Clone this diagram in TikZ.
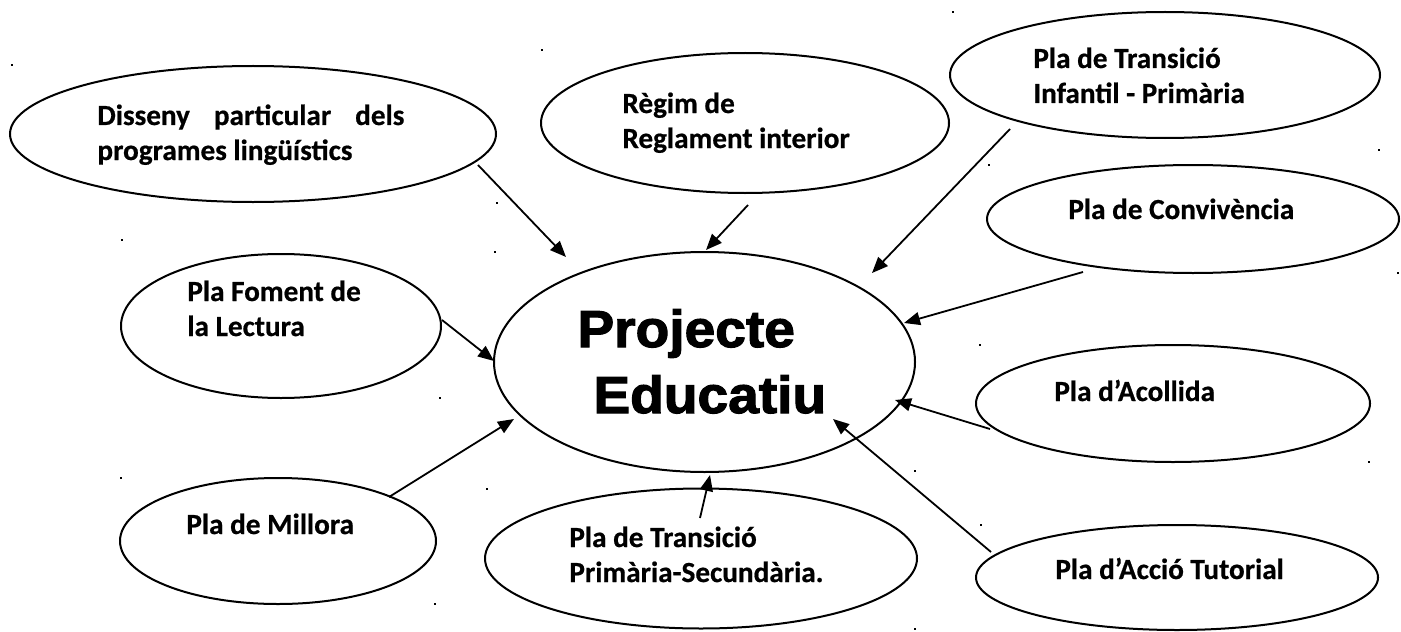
\documentclass[tikz,border=0pt]{standalone}
\usepackage{fontspec}
\setmainfont{Carlito}[BoldFeatures={FakeBold=0.6}]
\newfontfamily\bigfont{Liberation Sans}[BoldFeatures={FakeBold=2.2,FakeStretch=1.06}]
\usetikzlibrary{arrows.meta,shapes.geometric}
\tikzset{
  ell/.style={ellipse, draw=black, line width=1pt, inner sep=0pt, fill=none},
  txt/.style={anchor=base west, inner sep=0pt, font=\fontsize{14.6pt}{17.5pt}\selectfont\bfseries},
  bigtxt/.style={anchor=base west, inner sep=0pt, font=\bigfont\bfseries\fontsize{26pt}{33pt}\selectfont},
  con/.style={line width=0.9pt, -{Triangle[length=8pt,width=6.5pt]}},
  dotmark/.style={fill=black}
}
\newcommand{\twolines}[2]{\begin{tabular}[t]{@{}l@{}}#1\\#2\end{tabular}}
\begin{document}
\begin{tikzpicture}[x=0.5pt,y=-0.5pt]
\useasboundingbox (0,0) rectangle (1401,631);
% ellipses
\node[ell, minimum width=243pt, minimum height=68pt] (dis) at (253,134) {};
\node[ell, minimum width=204pt, minimum height=70pt] (reg) at (745,123) {};
\node[ell, minimum width=215pt, minimum height=63pt] (inf) at (1165,75) {};
\node[ell, minimum width=206pt, minimum height=54pt] (con) at (1193,219) {};
\node[ell, minimum width=160pt, minimum height=72pt] (fom) at (281,326) {};
\node[ell, minimum width=210.5pt, minimum height=110pt] (pe) at (704.5,362) {};
\node[ell, minimum width=197pt, minimum height=58.5pt] (aco) at (1173,403.5) {};
\node[ell, minimum width=158pt, minimum height=63pt] (mil) at (278,541) {};
\node[ell, minimum width=216pt, minimum height=70pt] (prs) at (701,558.5) {};
\node[ell, minimum width=201pt, minimum height=52.5pt] (tut) at (1177,577.5) {};
% texts
\node[txt] (tdis) at (97,125) {\twolines{\makebox[153.5pt][s]{Disseny particular dels}}{programes lingüístics}};
\node[txt] (treg) at (622,113) {\twolines{Règim de}{Reglament interior}};
\node[txt] (tinf) at (1033,68) {\twolines{Pla de Transició}{Infantil - Primària}};
\node[txt] (tcon) at (1068,219) {Pla de Convivència};
\node[txt] (tfom) at (187,301) {\twolines{Pla Foment de}{la Lectura}};
\node[txt] (taco) at (1054,401) {Pla d’Acollida};
\node[txt] (tmil) at (186,534) {Pla de Millora};
\node[txt] (tprs) at (569,547) {\twolines{Pla de Transició}{Primària-Secundària.}};
\node[txt] (ttut) at (1055,579) {Pla d’Acció Tutorial};
\node[bigtxt] (tpe1) at (577,347) {Projecte};
\node[bigtxt] (tpe2) at (593,413) {Educatiu};
% connector end points
\coordinate (sdis) at (478,165); \coordinate (tdisx) at (566,257);
\coordinate (sreg) at (748,205); \coordinate (tregx) at (706,250);
\coordinate (sinf) at (1010,129); \coordinate (tinfx) at (872,273);
\coordinate (scon) at (1083,272); \coordinate (tconx) at (904,323);
\coordinate (sfom) at (442,320); \coordinate (tfomx) at (494,361);
\coordinate (saco) at (990,429); \coordinate (tacox) at (895,400);
\coordinate (smil) at (389,497); \coordinate (tmilx) at (514,419);
\coordinate (sprs) at (700,518); \coordinate (tprsx) at (710,475);
\coordinate (stut) at (991,552); \coordinate (ttutx) at (833,419);
\draw[con] (sdis) -- (tdisx);
\draw[con] (sreg) -- (tregx);
\draw[con] (sinf) -- (tinfx);
\draw[con] (scon) -- (tconx);
\draw[con] (sfom) -- (tfomx);
\draw[con] (saco) -- (tacox);
\draw[con] (smil) -- (tmilx);
\draw[con] (sprs) -- (tprsx);
\draw[con] (stut) -- (ttutx);
% stray paragraph marks
\foreach \p in {(12,65),(542,50),(953,12),(497,203),(122,240),(495,252),(989,165),(1379,150),(1398,273),(440,398),(121,478),(487,489),(435,604),(980,345),(1369,462),(981,525),(915,471),(915,629)}
  \fill[dotmark] \p ++(-1.3,-1.3) rectangle ++(2.6,2.6);
\end{tikzpicture}
\end{document}
